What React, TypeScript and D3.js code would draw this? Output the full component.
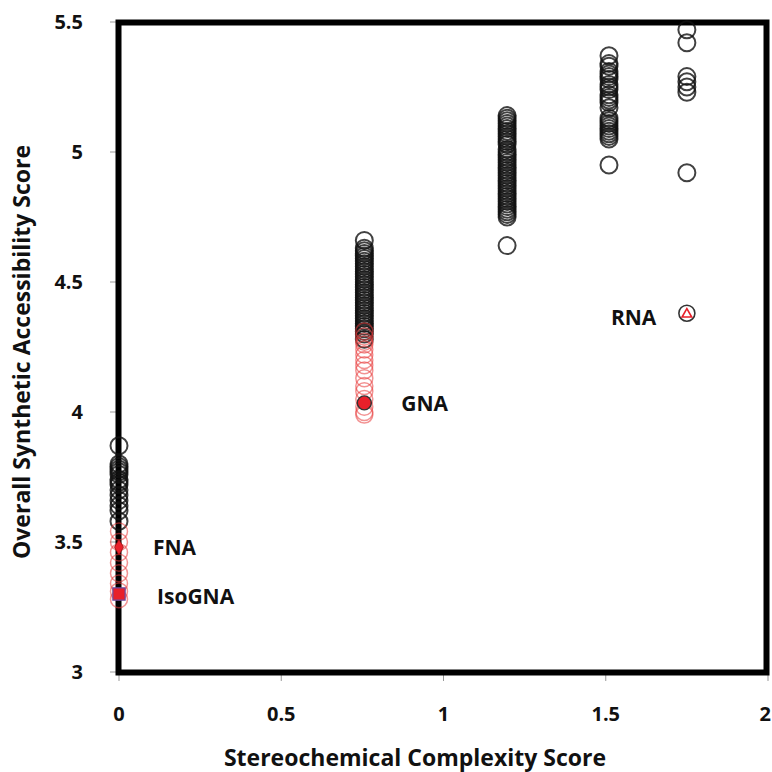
import React from 'react';
import * as d3 from 'd3';

// stereochemical complexity score of each column
const colX = [0, 0.756, 1.196, 1.51, 1.75];

// synthetic accessibility scores, grey/black circles
const col0Black = [3.87, 3.8, 3.79, 3.78, 3.77, 3.76, 3.74, 3.73, 3.72, 3.7, 3.68, 3.66, 3.64, 3.62, 3.58];
const col1Black = [4.66, 4.63, 4.62, 4.61, 4.6, 4.59, 4.58, 4.57, 4.56, 4.55, 4.54, 4.53, 4.52, 4.51, 4.5,
    4.49, 4.48, 4.47, 4.46, 4.45, 4.44, 4.43, 4.42, 4.41, 4.4, 4.39, 4.38, 4.37, 4.36, 4.35, 4.34, 4.33,
    4.32, 4.31, 4.3, 4.28];
const col2Black = [5.14, 5.13, 5.12, 5.11, 5.1, 5.09, 5.08, 5.07, 5.06, 5.05, 5.04, 5.03, 5.01, 5.0, 4.99,
    4.98, 4.97, 4.96, 4.95, 4.94, 4.93, 4.92, 4.91, 4.9, 4.89, 4.88, 4.87, 4.86, 4.85, 4.84, 4.83, 4.82,
    4.81, 4.8, 4.79, 4.78, 4.77, 4.76, 4.75, 4.64];
const col3Black = [5.37, 5.34, 5.33, 5.31, 5.3, 5.29, 5.28, 5.26, 5.25, 5.24, 5.22, 5.21, 5.2, 5.19, 5.17,
    5.13, 5.12, 5.11, 5.1, 5.09, 5.08, 5.07, 5.06, 5.05, 4.95];
const col4Black = [5.47, 5.42, 5.29, 5.27, 5.25, 5.23, 4.92];

// red (faded) circles
const col0Red = [3.54, 3.5, 3.46, 3.42, 3.38, 3.34, 3.31, 3.28];
const col1Red = [4.31, 4.29, 4.27, 4.26, 4.24, 4.22, 4.2, 4.18, 4.16, 4.13, 4.1, 4.08, 4.05, 4.02, 4.0, 3.99];

// highlighted compounds
const named = [
    {name: 'FNA', x: 0, y: 3.48, mark: 'diamond'},
    {name: 'IsoGNA', x: 0, y: 3.3, mark: 'square'},
    {name: 'GNA', x: 0.756, y: 4.035, mark: 'circle'},
    {name: 'RNA', x: 1.75, y: 4.38, mark: 'triangle'},
];

const xTicks = [0, 0.5, 1, 1.5, 2];
const yTicks = [3, 3.5, 4, 4.5, 5, 5.5];

const W = 772, H = 772;
const margin = {left: 119, right: 4, top: 22, bottom: 100};
const font = "'Open Sans', 'Noto Sans', sans-serif";

export default function App() {
    const x = d3.scaleLinear().domain([0, 2]).range([margin.left, W - margin.right]);
    const y = d3.scaleLinear().domain([3, 5.5]).range([H - margin.bottom, margin.top]);

    const blackCols = [col0Black, col1Black, col2Black, col3Black, col4Black];
    const redCols = [col0Red, col1Red];

    const labelPos: Record<string, [number, number]> = {
        FNA: [34, 1], IsoGNA: [38, 3], GNA: [37, 1], RNA: [-76, 5],
    };

    return (
        <svg width={W} height={H} style={{position: 'absolute', left: 0, top: 0, background: '#fff'}}
             fontFamily={font}>
            {/* ticks */}
            {xTicks.map((t, i) => {
                const last = i === xTicks.length - 1;
                return (
                    <g key={'x' + t}>
                        <line x1={x(t)} x2={x(t)} y1={y(3) + 3} y2={y(3) + 9} stroke="#999" strokeWidth={1}/>
                        <text x={last ? W - 1 : x(t)} y={y(3) + 49} textAnchor={last ? 'end' : 'middle'}
                              fontSize={20} fontWeight={700} fill="#111">{t}</text>
                    </g>
                );
            })}
            {yTicks.map(t => (
                <g key={'y' + t}>
                    <line x1={x(0) - 9} x2={x(0) - 3} y1={y(t)} y2={y(t)} stroke="#999" strokeWidth={1}/>
                    <text x={83} y={y(t) + 7} textAnchor="end" fontSize={20} fontWeight={700}
                          fill="#111">{t}</text>
                </g>
            ))}

            {/* frame */}
            <rect x={x(0) - 0.5} y={y(5.5) + 0.5} width={x(2) - x(0) - 1} height={y(3) - y(5.5)}
                  fill="none" stroke="#000" strokeWidth={6}/>

            {/* black circles */}
            {blackCols.map((col, i) => col.map((v, j) => (
                <circle key={`b${i}-${j}`} cx={x(colX[i])} cy={y(v)} r={8.5}
                        fill="none" stroke="#111" strokeWidth={2} strokeOpacity={0.8}/>
            )))}

            {/* red circles */}
            {redCols.map((col, i) => col.map((v, j) => (
                <circle key={`r${i}-${j}`} cx={x(colX[i])} cy={y(v)} r={8.5}
                        fill="none" stroke="#e83a3a" strokeWidth={1.5} strokeOpacity={0.55}/>
            )))}

            {/* named compounds */}
            {named.map(d => {
                const cx = x(d.x), cy = y(d.y);
                let mark;
                if (d.mark === 'diamond') {
                    mark = <path transform={`translate(${cx},${cy})`}
                                 d={d3.symbol(d3.symbolDiamond, 70)() as string}
                                 fill="#e8202a" stroke="#a01010" strokeWidth={0.8}/>;
                } else if (d.mark === 'square') {
                    mark = <path transform={`translate(${cx},${cy})`}
                                 d={d3.symbol(d3.symbolSquare, 150)() as string}
                                 fill="#e8202a" stroke="#6a4aa0" strokeWidth={1.2}/>;
                } else if (d.mark === 'circle') {
                    mark = <circle cx={cx} cy={cy} r={7} fill="#e8202a" stroke="#333" strokeWidth={1.4}/>;
                } else {
                    mark = (
                        <g>
                            <circle cx={cx} cy={cy} r={8} fill="#fff" stroke="#333" strokeWidth={1.6}/>
                            <path transform={`translate(${cx},${cy + 1})`}
                                  d={d3.symbol(d3.symbolTriangle, 40)() as string}
                                  fill="#fff" stroke="#e8202a" strokeWidth={1.6}/>
                        </g>
                    );
                }
                const [dx, dy] = labelPos[d.name];
                return (
                    <g key={d.name}>
                        {mark}
                        <text x={cx + dx} y={cy + dy + 7} fontSize={21} fontWeight={700} fill="#111">{d.name}</text>
                    </g>
                );
            })}

            {/* axis titles */}
            <text x={415} y={766} textAnchor="middle" fontSize={23} fontWeight={700} fill="#111">
                Stereochemical Complexity Score
            </text>
            <text transform={`translate(30, ${352}) rotate(-90)`} textAnchor="middle" fontSize={23}
                  fontWeight={700} fill="#111">
                Overall Synthetic Accessibility Score
            </text>
        </svg>
    );
}
